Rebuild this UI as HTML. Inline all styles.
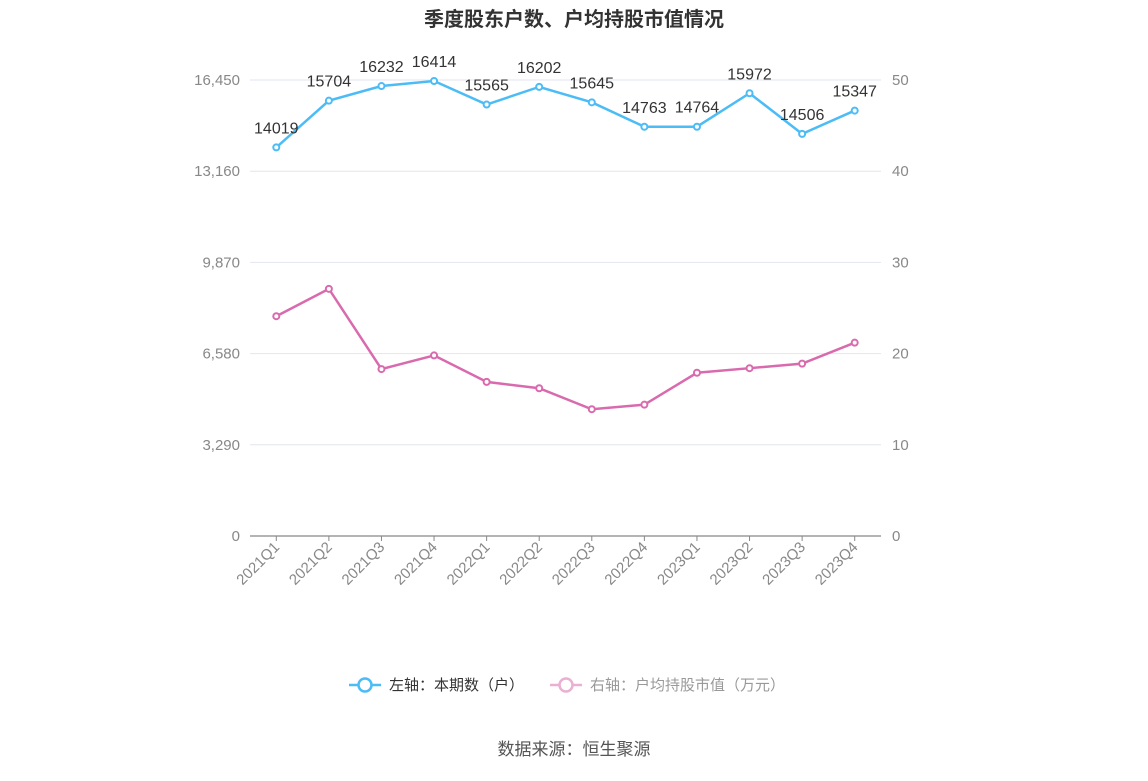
<!DOCTYPE html>
<html><head><meta charset="utf-8"><style>
body{margin:0;background:#fff;font-family:"Liberation Sans","Noto Sans CJK SC",sans-serif;}
svg text{font-family:"Liberation Sans","Noto Sans CJK SC",sans-serif;}
</style></head><body>
<svg id="c" width="1148" height="776">
<text x="574" y="26" text-anchor="middle" font-size="20" font-weight="bold" fill="#333">季度股东户数、户均持股市值情况</text>
<g id="grid"></g><g id="marks"></g>
<g>
<g>
<line x1="349" y1="685" x2="381" y2="685" stroke="#4cbcf6" stroke-width="2.5"/>
<circle cx="365" cy="685" r="6.5" fill="#fff" stroke="#4cbcf6" stroke-width="2.5"/>
<text x="389" y="690" font-size="15" fill="#333">左轴：本期数（户）</text></g>
<g>
<line x1="550" y1="685" x2="582" y2="685" stroke="#eab0d4" stroke-width="2.5"/>
<circle cx="566" cy="685" r="6.5" fill="#fff" stroke="#eab0d4" stroke-width="2.5"/>
<text x="590" y="690" font-size="15" fill="#999">右轴：户均持股市值（万元）</text></g>
</g>
<text x="574" y="755" text-anchor="middle" font-size="17" fill="#555">数据来源：恒生聚源</text>
</svg>
<script>
const categories=["2021Q1","2021Q2","2021Q3","2021Q4","2022Q1","2022Q2","2022Q3","2022Q4","2023Q1","2023Q2","2023Q3","2023Q4"];
const holders=[14019,15704,16232,16414,15565,16202,15645,14763,14764,15972,14506,15347];
const avgValue=[24.1,27.1,18.3,19.8,16.9,16.2,13.9,14.4,17.9,18.4,18.9,21.2];
const leftTicks=[0,3290,6580,9870,13160,16450];
const rightTicks=[0,10,20,30,40,50];
const NS="http://www.w3.org/2000/svg";
const x0=250,x1=881,yB=536,yT=80;
const band=(x1-x0)/categories.length;
const xs=i=>x0+band*(i+0.5);
const yl=v=>yB-(v/16450)*(yB-yT);
const yr=v=>yB-(v/50)*(yB-yT);
function mk(t,a,p){const e=document.createElementNS(NS,t);for(const k in a)e.setAttribute(k,a[k]);p.appendChild(e);return e;}
const g=document.getElementById('grid'),m=document.getElementById('marks');
leftTicks.forEach((v,i)=>{const y=yl(v);
 const ln=mk('line',{x1:x0,x2:x1,y1:y,y2:y,stroke:i?'#e3e6ef':'#888','stroke-width':i?1:1.2},g);
 
 
 const t=mk('text',{x:240,y:y+5,'text-anchor':'end','font-size':15,fill:'#888'},g);t.textContent=v.toLocaleString('en-US');
 
 
});
rightTicks.forEach(v=>{const t=mk('text',{x:892,y:yr(v)+5,'font-size':15,fill:'#888'},g);t.textContent=v;
 
 });
categories.forEach((c,i)=>{const x=xs(i);
 mk('line',{x1:x,x2:x,y1:yB,y2:yB+5,stroke:'#888'},g);
 const t=mk('text',{x:x+4,y:yB+12,'text-anchor':'end','font-size':15,fill:'#888',transform:`rotate(-45 ${x+4} ${yB+12})`},g);t.textContent=c;
 
 });
function series(vals,yf,color,name,labels){
 const p=mk('polyline',{points:vals.map((v,i)=>xs(i)+','+yf(v)).join(' '),fill:'none',stroke:color,'stroke-width':2.5},m);
 
 
 vals.forEach((v,i)=>{const c=mk('circle',{cx:xs(i),cy:yf(v),r:3,fill:'#fff',stroke:color,'stroke-width':2},m);
  
  
  if(labels){const t=mk('text',{x:xs(i),y:yf(v)-14,'text-anchor':'middle','font-size':16,fill:'#333'},m);t.textContent=v;
   
   }});
}
series(avgValue,yr,'#d96aae','avg-value',false);
series(holders,yl,'#4cbcf6','holders',true);
</script>
</body></html>
